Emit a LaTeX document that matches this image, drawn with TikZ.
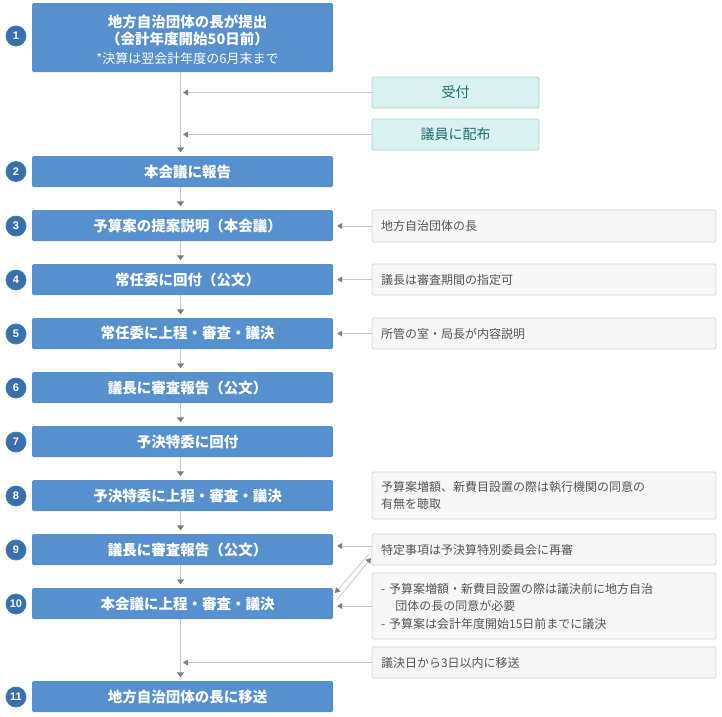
\documentclass[tikz,border=0pt]{standalone}
\usepackage{fontspec}
\setmainfont{Noto Sans CJK JP}
\newfontfamily\numfont{Liberation Sans}
\usetikzlibrary{arrows.meta,calc}
\definecolor{mainblue}{HTML}{5690CF}
\definecolor{numblue}{HTML}{3A6FAE}
\definecolor{numedge}{HTML}{3F83A6}
\definecolor{recfill}{HTML}{DAF1F2}
\definecolor{recdraw}{HTML}{A9D3D5}
\definecolor{rectext}{HTML}{1D6B6E}
\definecolor{notefill}{HTML}{F7F7F7}
\definecolor{notedraw}{HTML}{D3D3D3}
\definecolor{notetext}{HTML}{555555}
\definecolor{linegray}{HTML}{C8C8C8}
\definecolor{arrowgray}{HTML}{7F7F7F}
\newcommand\padl{\hspace*{10pt}}
\tikzset{
  mainbox/.style={fill=mainblue, draw=none, rounded corners=1.5pt,
    minimum width=301pt, minimum height=31pt, inner sep=0pt, text=white,
    font=\fontsize{14.5}{17}\selectfont\bfseries},
  numc/.style={circle, fill=numblue, draw=numedge, line width=0.8pt,
    minimum size=20pt, inner sep=0pt, text=white,
    font=\numfont\fontsize{11}{11}\selectfont\bfseries},
  recbox/.style={fill=recfill, draw=recdraw, line width=0.8pt, rounded corners=1.5pt,
    minimum width=167pt, minimum height=31pt, inner sep=0pt, text=rectext,
    font=\fontsize{14}{16}\selectfont},
  notebox/.style={fill=notefill, draw=notedraw, line width=0.8pt, rounded corners=1.5pt,
    text width=326pt, inner xsep=9pt, inner ysep=0pt, minimum height=31pt,
    align=left, text=notetext, font=\fontsize{12}{17.5}\selectfont},
  flow/.style={draw=linegray, line width=1pt,
    -{Triangle[width=7pt,length=5pt,color=arrowgray]}, shorten >=3.5pt},
  side/.style={draw=linegray, line width=1pt,
    -{Triangle[width=6pt,length=5pt,color=arrowgray]}},
}
\begin{document}
\begin{tikzpicture}[x=1pt,y=-1pt]
\useasboundingbox[fill=white] (0,0) rectangle (722,716);

% main boxes
\node[mainbox, minimum height=69pt, align=center] (b1) at (182.5,37.5)
  {\padl\rule{0pt}{17.5pt}地方自治団体の長が提出\\\padl（会計年度開始50日前）\\[1.5pt]{\fontsize{13}{17}\selectfont\mdseries\padl *決算は翌会計年度の6月末まで}};
\node[mainbox] (b2) at (182.5,171.5) {\padl 本会議に報告};
\node[mainbox] (b3) at (182.5,225.5) {\padl 予算案の提案説明（本会議）};
\node[mainbox] (b4) at (182.5,279.5) {\padl 常任委に回付（公文）};
\node[mainbox] (b5) at (182.5,333.5) {\padl 常任委に上程・審査・議決};
\node[mainbox] (b6) at (182.5,387.5) {\padl 議長に審査報告（公文）};
\node[mainbox] (b7) at (182.5,441.5) {\padl 予決特委に回付};
\node[mainbox] (b8) at (182.5,495.5) {\padl 予決特委に上程・審査・議決};
\node[mainbox] (b9) at (182.5,549.5) {\padl 議長に審査報告（公文）};
\node[mainbox] (b10) at (182.5,603.5) {\padl 本会議に上程・審査・議決};
\node[mainbox] (b11) at (182.5,696.5) {\padl 地方自治団体の長に移送};

% number circles
\node[numc] (c1) at (16,36) {1};
\node[numc] (c2) at (16,171.5) {2};
\node[numc] (c3) at (16,226) {3};
\node[numc] (c4) at (16,280) {4};
\node[numc] (c5) at (16,334) {5};
\node[numc] (c6) at (16,388) {6};
\node[numc] (c7) at (16,442) {7};
\node[numc] (c8) at (16,496) {8};
\node[numc] (c9) at (16,550) {9};
\node[numc] (c10) at (16,604) {10};
\node[numc] (c11) at (16,697) {11};

% reception boxes
\node[recbox] (uk) at (455.5,92.5) {受付};
\node[recbox] (hf) at (455.5,134.5) {議員に配布};

% note boxes
\node[notebox, minimum height=32pt] (n3) at (544,226) {地方自治団体の長};
\node[notebox] (n4) at (544,279.5) {議長は審査期間の指定可};
\node[notebox] (n5) at (544,333.5) {所管の室・局長が内容説明};
\node[notebox, minimum height=47pt] (n8) at (544,495.5) {予算案増額、新費目設置の際は執行機関の同意の\\有無を聴取};
\node[notebox] (n9) at (544,549.5) {特定事項は予決算特別委員会に再審};
\node[notebox, minimum height=66pt] (n10) at (544,606) {- 予算案増額・新費目設置の際は議決前に地方自治\\\hspace*{1.2em}団体の長の同意が必要\\- 予算案は会計年度開始15日前までに議決};
\node[notebox] (n11) at (544,662.5) {議決日から3日以内に移送};

% main flow
\coordinate (mx) at (180.5,0);
\draw[flow] (b1.south -| mx) -- (b2.north -| mx);
\draw[flow] (b2.south -| mx) -- (b3.north -| mx);
\draw[flow] (b3.south -| mx) -- (b4.north -| mx);
\draw[flow] (b4.south -| mx) -- (b5.north -| mx);
\draw[flow] (b5.south -| mx) -- (b6.north -| mx);
\draw[flow] (b6.south -| mx) -- (b7.north -| mx);
\draw[flow] (b7.south -| mx) -- (b8.north -| mx);
\draw[flow] (b8.south -| mx) -- (b9.north -| mx);
\draw[flow] (b9.south -| mx) -- (b10.north -| mx);
\draw[flow] (b10.south -| mx) -- (b11.north -| mx);

% side inputs
\draw[side, shorten >=2.5pt] (uk.west) -- (uk.west -| mx);
\draw[side, shorten >=2.5pt] (hf.west) -- (hf.west -| mx);
\draw[side, shorten >=2.5pt] (n11.west) -- (n11.west -| mx);
\draw[side, shorten >=4pt] (n3.west) -- (n3.west -| b3.east);
\draw[side, shorten >=4pt] (n4.west) -- (n4.west -| b4.east);
\draw[side, shorten >=4pt] (n5.west) -- (n5.west -| b5.east);
\draw[side, shorten >=4pt] ([yshift=3.5pt]n9.west) -- ([yshift=3.5pt]n9.west -| b9.east);
\draw[side, shorten >=4pt] (n10.west) -- (n10.west -| b10.east);

% diagonal exchange
\coordinate (d1s) at (369,554);
\coordinate (d1e) at (335,593);
\coordinate (d2s) at (337,600);
\coordinate (d2e) at (371,558);
\draw[side, draw=linegray!80] (d1s) -- (d1e);
\draw[side, draw=linegray!80] (d2s) -- (d2e);
\end{tikzpicture}
\end{document}
